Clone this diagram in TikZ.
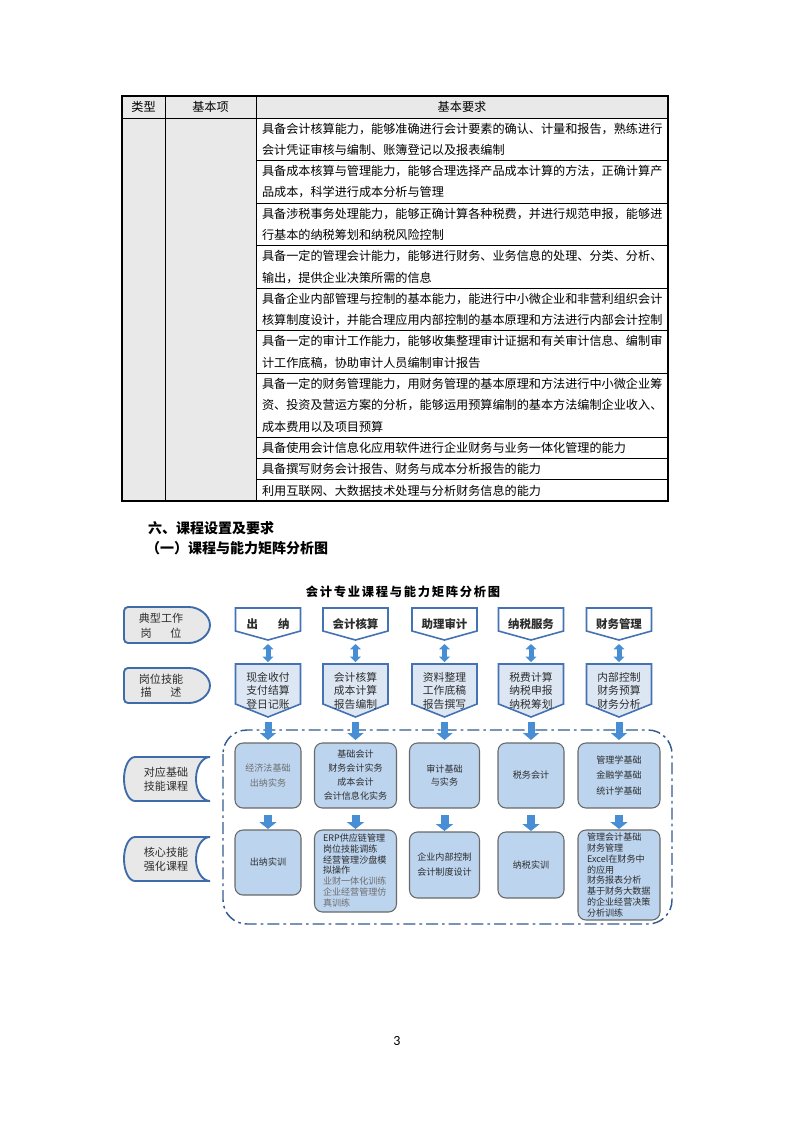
\documentclass[tikz,border=0pt]{standalone}
\usepackage{fontspec}
\setmainfont{Noto Sans CJK SC}
\newfontfamily\titlefont[LetterSpace=14]{Noto Sans CJK SC}
\newfontfamily\pagefont{Carlito}
\usetikzlibrary{arrows.meta,calc}
\XeTeXlinebreaklocale "zh"
\XeTeXlinebreakskip=0pt plus 4pt
\newcommand\jline[1]{\makebox[300.75pt][s]{#1}}
\pgfdeclarelayer{page}
\pgfdeclarelayer{bg}
\pgfsetlayers{page,bg,main}
\definecolor{tgray}{RGB}{233,233,233}
\definecolor{bblue}{RGB}{68,114,178}
\definecolor{lblue}{RGB}{221,231,243}
\definecolor{cfill}{RGB}{188,212,238}
\definecolor{cdraw}{RGB}{105,105,105}
\definecolor{afill}{RGB}{72,142,212}
\definecolor{fblue}{RGB}{52,92,145}
\definecolor{labfill}{RGB}{232,232,232}
\definecolor{labdraw}{RGB}{62,108,170}
\definecolor{dtext}{RGB}{45,45,45}
\definecolor{gtext}{RGB}{110,110,110}
\begin{document}
\begin{tikzpicture}[x=0.75pt,y=-0.75pt,
  every node/.style={inner sep=0pt,outer sep=0pt},
  tline/.style={draw=black,line width=0.6pt},
  tframe/.style={draw=black,line width=1.1pt},
  ttext/.style={anchor=west,font=\fontsize{9.1pt}{11pt}\selectfont},
  thead/.style={font=\fontsize{9.1pt}{11pt}\selectfont},
  heading/.style={anchor=west,font=\bfseries\fontsize{10.5pt}{12pt}\selectfont},
  tbox/.style={minimum width=48.75pt,minimum height=24pt,font=\bfseries\fontsize{8.6pt}{10pt}\selectfont,text=dtext},
  mbox/.style={minimum width=48.75pt,minimum height=39.75pt,align=center,font=\fontsize{8.1pt}{10.1pt}\selectfont,text=dtext},
  tshape/.style={draw=bblue,fill=white,line width=1.2pt,line join=miter},
  mshape/.style={draw=bblue,fill=lblue,line width=1.2pt,line join=miter},
  labshape/.style={draw=labdraw,fill=labfill,line width=1.4pt,rounded corners=3pt},
  labtext/.style={align=center,text=dtext},
  course/.style={draw=cdraw,fill=cfill,line width=0.8pt,rounded corners=6pt,align=center,text=dtext},
  frame/.style={draw=fblue,line width=1.1pt,dash pattern=on 9pt off 3pt on 2pt off 3pt,rounded corners=18pt},
  dbl/.style={draw=afill,line width=3.75pt,arrows={Triangle[width=8pt,length=4pt]-Triangle[width=8pt,length=4pt]},shorten <=3pt,shorten >=1.5pt},
  darr/.style={draw=afill,line width=5.25pt,arrows={-Triangle[width=12pt,length=5.25pt]},shorten <=3.75pt,shorten >=2.25pt},
  rarr/.style={draw=afill,line width=6pt,arrows={-Triangle[width=12.75pt,length=5.25pt]},shorten <=5.25pt,shorten >=0.75pt}
]
\begin{pgfonlayer}{page}
\fill[white] (0,0) rectangle (793,1122);
\end{pgfonlayer}
\useasboundingbox (0,0) rectangle (793,1122);

% ---------------- table ----------------
\fill[tgray] (122,96) rectangle (668,118);
\fill[tgray] (122,118) rectangle (256,501.04);
\draw[tline] (165,96) -- (165,501.04);
\draw[tline] (256,96) -- (256,501.04);
\draw[tline] (122,118) -- (668,118);
\foreach \yy in {160.56,203.12,245.68,288.24,330.80,373.36,437.2,458.48,479.76}
  \draw[tline] (256,\yy) -- (668,\yy);
\draw[tframe] (122,96) rectangle (668,501.04);

\node[thead] (h-type) at (143.5,107) {类型};
\node[thead] (h-item) at (210.5,107) {基本项};
\node[thead] (h-req) at (462,107) {基本要求};

\foreach \i/\t in {
  0/{\jline{具备会计核算能力，能够准确进行会计要素的确认、计量和报告，熟练进行}},
  1/{会计凭证审核与编制、账簿登记以及报表编制},
  2/{\jline{具备成本核算与管理能力，能够合理选择产品成本计算的方法，正确计算产}},
  3/{品成本，科学进行成本分析与管理},
  4/{\jline{具备涉税事务处理能力，能够正确计算各种税费，并进行规范申报，能够进}},
  5/{行基本的纳税筹划和纳税风险控制},
  6/{\jline{具备一定的管理会计能力，能够进行财务、业务信息的处理、分类、分析、}},
  7/{输出，提供企业决策所需的信息},
  8/{\jline{具备企业内部管理与控制的基本能力，能进行中小微企业和非营利组织会计}},
  9/{\jline{核算制度设计，并能合理应用内部控制的基本原理和方法进行内部会计控制}},
  10/{\jline{具备一定的审计工作能力，能够收集整理审计证据和有关审计信息、编制审}},
  11/{计工作底稿，协助审计人员编制审计报告},
  12/{\jline{具备一定的财务管理能力，用财务管理的基本原理和方法进行中小微企业筹}},
  13/{\jline{资、投资及营运方案的分析，能够运用预算编制的基本方法编制企业收入、}},
  14/{成本费用以及项目预算},
  15/{具备使用会计信息化应用软件进行企业财务与业务一体化管理的能力},
  16/{具备撰写财务会计报告、财务与成本分析报告的能力},
  17/{利用互联网、大数据技术处理与分析财务信息的能力}}
  \node[ttext] (r\i) at (262,{128.64+21.28*\i}) {\t};

% ---------------- headings ----------------
\node[heading] (sec6) at (148,528) {六、课程设置及要求};
\node[heading] (sec6a) at (146,548) {（一）课程与能力矩阵分析图};

% ---------------- diagram ----------------
\node[font=\titlefont\bfseries\fontsize{9.2pt}{11pt}\selectfont] (title) at (403,592) {会计专业课程与能力矩阵分析图};

% left labels
\draw[labshape] (124,607) -- (185,607) arc[start angle=-90,end angle=90,x radius=25,y radius=18] -- (124,643) -- cycle;
\draw[labshape] (124,668) -- (185,668) arc[start angle=-90,end angle=90,x radius=25,y radius=17.5] -- (124,703) -- cycle;
\draw[labshape,rounded corners=0pt] (135,757) arc[start angle=270,end angle=90,x radius=11,y radius=22] -- (210,801) arc[start angle=90,end angle=270,x radius=14,y radius=22] -- cycle;
\draw[labshape,rounded corners=0pt] (135,837) arc[start angle=270,end angle=90,x radius=11,y radius=22] -- (210,881) arc[start angle=90,end angle=270,x radius=14,y radius=22] -- cycle;

\node[labtext,font=\fontsize{8.3pt}{11.25pt}\selectfont] (L1) at (161,625.5) {典型工作\\岗\hspace{14pt}位};
\node[labtext,font=\fontsize{8.3pt}{10pt}\selectfont] (L2) at (161,685.5) {岗位技能\\描\hspace{14pt}述};
\node[labtext,font=\fontsize{8.3pt}{10.5pt}\selectfont] (L3) at (166,779.5) {对应基础\\技能课程};
\node[labtext,font=\fontsize{8.3pt}{10.5pt}\selectfont] (L4) at (166,859.5) {核心技能\\强化课程};

% top boxes (jobs)
\node[tbox] (t1) at (268,624) {出\hspace{15pt}纳};
\node[tbox] (t2) at (355.5,624) {会计核算};
\node[tbox] (t3) at (444.5,624) {助理审计};
\node[tbox] (t4) at (531,624) {纳税服务};
\node[tbox] (t5) at (619,624) {财务管理};

% skill description boxes
\node[mbox] (m1) at (268,690.5) {现金收付\\支付结算\\登日记账};
\node[mbox] (m2) at (355.5,690.5) {会计核算\\成本计算\\报告编制};
\node[mbox] (m3) at (444.5,690.5) {资料整理\\工作底稿\\报告撰写};
\node[mbox] (m4) at (531,690.5) {税费计算\\纳税申报\\纳税筹划};
\node[mbox] (m5) at (619,690.5) {内部控制\\财务预算\\财务分析};

\begin{pgfonlayer}{bg}
\foreach \n in {t1,t2,t3,t4,t5}
  \draw[tshape] (\n.north west) -- (\n.north east) -- ($(\n.south east)+(0,-9)$) -- (\n.south) -- ($(\n.south west)+(0,-9)$) -- cycle;
\foreach \n in {m1,m2,m3,m4,m5}
  \draw[mshape] (\n.north west) -- (\n.north east) -- ($(\n.south east)+(0,-13)$) -- (\n.south) -- ($(\n.south west)+(0,-13)$) -- cycle;
\draw[frame] (223,730) rectangle (672,924);
\end{pgfonlayer}

% course boxes
\node[course,minimum width=49.5pt,minimum height=48.75pt,text=gtext,font=\fontsize{6.8pt}{11.25pt}\selectfont] (c11) at (268,775.5) {经济法基础\\出纳实务};
\node[course,minimum width=61.5pt,minimum height=48.75pt,font=\fontsize{6.8pt}{10.5pt}\selectfont] (c12) at (355.5,775.5) {基础会计\\财务会计实务\\成本会计\\会计信息化实务};
\node[course,minimum width=52.5pt,minimum height=48.75pt,font=\fontsize{6.8pt}{10pt}\selectfont] (c13) at (444.5,775.5) {审计基础\\与实务};
\node[course,minimum width=49.5pt,minimum height=48.75pt,font=\fontsize{6.8pt}{10pt}\selectfont] (c14) at (531,775.5) {税务会计};
\node[course,minimum width=61.5pt,minimum height=48.75pt,font=\fontsize{6.8pt}{11.6pt}\selectfont] (c15) at (619,775.5) {管理学基础\\金融学基础\\统计学基础};

\node[course,minimum width=49.5pt,minimum height=48.75pt,font=\fontsize{6.8pt}{10pt}\selectfont] (c21) at (268,862.5) {出纳实训};
\node[course,minimum width=61.5pt,minimum height=61.5pt] (c22) at (355.5,871) {};
\node[course,minimum width=52.5pt,minimum height=49.5pt,font=\fontsize{6.8pt}{11.25pt}\selectfont] (c23) at (444.5,865) {企业内部控制\\会计制度设计};
\node[course,minimum width=49.5pt,minimum height=49.5pt,font=\fontsize{6.8pt}{10pt}\selectfont] (c24) at (531,865) {纳税实训};
\node[course,minimum width=61.5pt,minimum height=67.5pt] (c25) at (619,875) {};

\node[anchor=west,align=left,font=\fontsize{6.8pt}{8.1pt}\selectfont,text=dtext] (c22t) at (323,870.5)
  {ERP供应链管理\\岗位技能调练\\经营管理沙盘模\\拟操作\\\textcolor{gtext}{业财一体化训练}\\\textcolor{gtext}{企业经营管理仿}\\\textcolor{gtext}{真训练}};
\node[anchor=west,align=left,font=\fontsize{6.8pt}{8.1pt}\selectfont,text=dtext] (c25t) at (587,875)
  {管理会计基础\\财务管理\\Excel在财务中\\的应用\\财务报表分析\\基于财务大数据\\的企业经营决策\\分析训练};

% connectors
\foreach \k in {1,2,3,4,5}
  \draw[dbl] (t\k.south) -- (m\k.north);
\foreach \k in {1,2,3,4,5}
  \draw[darr] (m\k.south) -- (m\k.south |- c1\k.north);
\foreach \k in {1,2,3,4,5}
  \draw[rarr] (c1\k.south) -- (c2\k.north);

% page number
\node[font=\pagefont\fontsize{10.5pt}{12pt}\selectfont] (page) at (397,1041) {3};
\end{tikzpicture}
\end{document}
